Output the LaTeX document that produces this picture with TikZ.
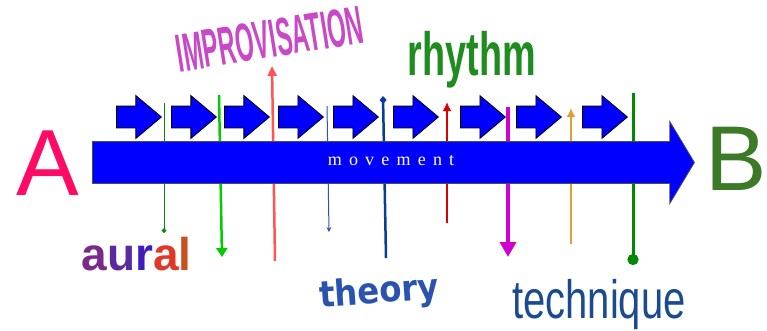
\documentclass[tikz,border=0pt]{standalone}
\usepackage{fontspec}
\setmainfont{Liberation Sans}
\newfontfamily\serifface{Liberation Serif}
\newfontfamily\roundface{DejaVu Sans}
\usetikzlibrary{arrows.meta,shapes.arrows}
\definecolor{ablue}{HTML}{0000FF}
\definecolor{apink}{HTML}{FF0A64}
\definecolor{bgreen}{HTML}{3C7A28}
\definecolor{impro}{HTML}{C848C8}
\definecolor{rgreen}{HTML}{1E8C1E}
\definecolor{tblue}{HTML}{1A4A90}
\definecolor{thblue}{HTML}{2A52B0}
\definecolor{apurple}{HTML}{7A2A8A}
\definecolor{aviolet}{HTML}{5A2AA0}
\definecolor{ared}{HTML}{E03828}
\definecolor{aorange}{HTML}{C8501E}
\definecolor{mdgreen}{HTML}{0A8A0A}
\definecolor{mlgreen}{HTML}{00CC00}
\definecolor{msalmon}{HTML}{FF5555}
\definecolor{mblue}{HTML}{2A55B0}
\definecolor{mnavy}{HTML}{0A3C96}
\definecolor{mred}{HTML}{DD0000}
\definecolor{mmagenta}{HTML}{D000D0}
\definecolor{morange}{HTML}{E0A030}
\definecolor{mgreen}{HTML}{008A00}
\tikzset{
  chevron/.style={single arrow, draw=black, fill=ablue, line width=0.8pt, anchor=tail,
                  inner xsep=0pt, inner ysep=10.5pt, minimum height=45pt,
                  single arrow head extend=10.5pt, single arrow tip angle=80},
  bigarrow/.style={single arrow, draw=black!70, fill=ablue, line width=0.8pt, anchor=tail,
                   inner xsep=0pt, inner ysep=20.5pt, minimum height=602pt,
                   single arrow head extend=20pt, single arrow tip angle=118},
  stem/.style={draw=#1, line width=2.5pt},
  word/.style={inner sep=0pt, anchor=base, text=#1}
}

\begin{document}
\begin{tikzpicture}[x=1pt, y=1pt]
  \useasboundingbox (0,0) rectangle (767,-330);
  % ends of the markers
  \coordinate (m1top) at (164,-103);  \coordinate (m1bot) at (164,-233);
  \coordinate (m2top) at (219,-95);   \coordinate (m2bot) at (222,-257);
  \coordinate (m3top) at (272,-66);   \coordinate (m3bot) at (275,-261);
  \coordinate (m4top) at (327,-106);  \coordinate (m4bot) at (329,-232);
  \coordinate (m5top) at (383,-96);   \coordinate (m5bot) at (386,-258);
  \coordinate (m6top) at (447,-102);  \coordinate (m6bot) at (447,-223);
  \coordinate (m7top) at (508,-107);  \coordinate (m7bot) at (508,-257);
  \coordinate (m8top) at (571,-108);  \coordinate (m8bot) at (571,-244);
  \coordinate (m9top) at (633,-93);   \coordinate (m9bot) at (633,-265);
  \draw[stem=mdgreen, line width=1pt, -{Diamond[length=5pt,width=5pt]}] (m1top) -- (m1bot);
  \draw[stem=mlgreen, -{Triangle[length=9pt,width=11pt]}] (m2top) -- (m2bot);
  \draw[stem=msalmon, {Triangle[length=10pt,width=9pt]}-] (m3top) -- (m3bot);
  \draw[stem=mblue, line width=1pt, -{Stealth[length=5pt,width=5pt]}] (m4top) -- (m4bot);
  \draw[stem=mnavy, {Diamond[length=8pt,width=7pt]}-] (m5top) -- (m5bot);
  \draw[stem=mred, {Latex[length=9pt,width=9pt]}-] (m6top) -- (m6bot);
  \draw[stem=mmagenta, line width=4pt, -{Triangle[length=15pt,width=16pt]}] (m7top) -- (m7bot);
  \draw[stem=morange, {Latex[length=9pt,width=9pt]}-] (m8top) -- (m8bot);
  \draw[stem=mgreen, line width=3pt, -{Circle[length=11pt]}] (m9top) -- (m9bot);

  \node[bigarrow] (move) at (92,-162.5) {};
  \node[inner sep=0pt, text=white, font=\serifface\fontsize{18}{18}\selectfont\addfontfeature{LetterSpace=40}]
    (movelbl) at (391,-161) {movement};

  \node[chevron] (c1) at (116,-117) {};
  \node[chevron] (c2) at (171,-117) {};
  \node[chevron] (c3) at (224,-117) {};
  \node[chevron] (c4) at (278,-117) {};
  \node[chevron] (c5) at (333,-117) {};
  \node[chevron] (c6) at (393,-117) {};
  \node[chevron] (c7) at (460,-117) {};
  \node[chevron] (c8) at (516,-117) {};
  \node[chevron] (c9) at (582,-117) {};

  \node[word=apink, font=\fontsize{94}{94}\selectfont] (start) at (47.5,-195) {A};
  \node[word=bgreen, font=\fontsize{92}{92}\selectfont] (goal) at (736,-190) {B};
  \node[inner sep=0pt, text=impro, rotate=9, font=\bfseries\fontsize{54}{54}\selectfont] (impro)
    at (270,-39) {\scalebox{0.44}[1]{IMPROVISATION}};
  \node[word=rgreen, font=\bfseries\fontsize{61}{61}\selectfont] (rhythm)
    at (472,-75) {\scalebox{0.62}[1]{rhythm}};
  \node[word=apurple, font=\bfseries\fontsize{46}{46}\selectfont] (aural) at (136.5,-270)
    {a{\color{aviolet}u}{\color{aviolet!70!blue}r}{\color{ared}a}{\color{aorange}l}};
  \node[word=thblue, rotate=4, font=\roundface\bfseries\fontsize{36}{36}\selectfont] (theory)
    at (380,-303) {\scalebox{0.9}[1]{theory}};
  \node[word=tblue, font=\fontsize{54}{54}\selectfont] (technique)
    at (599,-318) {\scalebox{0.74}[1]{technique}};
\end{tikzpicture}
\end{document}
